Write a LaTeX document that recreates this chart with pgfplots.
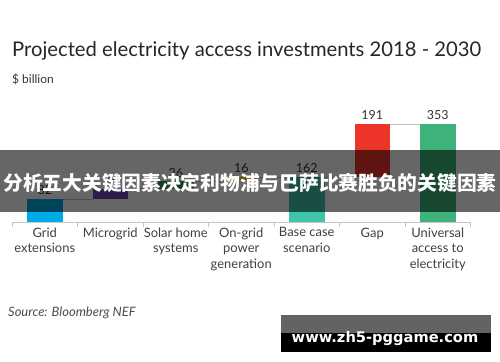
\documentclass[border=0pt]{standalone}
\usepackage{pgfplots}
\pgfplotsset{compat=1.18}
\usepackage{pgfplotstable}
\usepackage{fontspec}
\setmainfont{Lato}
\newfontfamily\cjk{Noto Sans CJK SC}
\newfontfamily\wm{DejaVu Sans}
\definecolor{gridblue}{RGB}{0,170,228}
\definecolor{micro}{RGB}{120,72,190}
\definecolor{solar}{RGB}{40,160,80}
\definecolor{ongrid}{RGB}{235,205,40}
\definecolor{basecase}{RGB}{64,196,170}
\definecolor{gapred}{RGB}{236,52,40}
\definecolor{univ}{RGB}{62,178,122}
\pgfplotstableread{
x base grid micro solar ongrid basecase gap univ
0 0   82 0  0  0  0   0   0
1 82  0  38 0  0  0   0   0
2 120 0  0  26 0  0   0   0
3 146 0  0  0  16 0   0   0
4 0   0  0  0  0  162 0   0
5 162 0  0  0  0  0   191 0
6 0   0  0  0  0  0   0   353
}\data
\begin{document}
\begin{tikzpicture}
\path[use as bounding box, fill=white] (0bp,0bp) rectangle (500bp,362bp);
\node[anchor=base west, font=\fontsize{20.3}{22}\selectfont, text=black!85, inner sep=0] at (12bp,305bp) {Projected electricity access investments 2018 - 2030};
\node[anchor=base west, font=\fontsize{12}{13}\selectfont, text=black!80, inner sep=0] at (12bp,278bp) {\$ billion};
\begin{axis}[at={(12bp,140bp)}, anchor=south west, scale only axis,
  width=458.5bp, height=111.04bp,
  xmin=-0.5, xmax=6.5, ymin=0, ymax=400,
  ybar stacked, bar width=35.5bp,
  axis x line=bottom, axis y line=none,
  x axis line style={-, gray!45},
  xtick={0,...,6},
  xticklabels={Grid\\extensions, Microgrid, Solar home\\systems, On-grid\\power\\generation, Base case\\scenario, Gap, Universal\\access to\\electricity},
  major tick length=0pt,
  extra x ticks={-0.5,0.5,1.5,2.5,3.5,4.5,5.5,6.5},
  extra x tick labels={},
  extra x tick style={major tick length=5bp, tick align=outside, tick style={gray!45}},
  xticklabel style={align=center, font=\fontsize{13}{15.5}\selectfont, text=black!75, inner sep=0pt, yshift=-5.5bp},
  clip=false]
\addplot[draw=none, fill=none] table[x=x,y=base]{\data};
\addplot[draw=none, fill=gridblue] table[x=x,y=grid]{\data};
\addplot[draw=none, fill=micro] table[x=x,y=micro]{\data};
\addplot[draw=none, fill=solar] table[x=x,y=solar]{\data};
\addplot[draw=none, fill=ongrid] table[x=x,y=ongrid]{\data};
\addplot[draw=none, fill=basecase] table[x=x,y=basecase]{\data};
\addplot[draw=none, fill=gapred] table[x=x,y=gap]{\data};
\addplot[draw=none, fill=univ] table[x=x,y=univ]{\data};
\end{axis}
\begin{axis}[at={(12bp,140bp)}, anchor=south west, scale only axis,
  width=458.5bp, height=111.04bp,
  xmin=-0.5, xmax=6.5, ymin=0, ymax=400,
  hide axis, clip=false]
\addplot[gray!50, line width=0.5bp] coordinates {(0.271,82) (0.729,82)};
\addplot[gray!50, line width=0.5bp] coordinates {(1.271,120) (1.729,120)};
\addplot[gray!50, line width=0.5bp] coordinates {(2.271,146) (2.729,146)};
\addplot[gray!50, line width=0.5bp] coordinates {(3.271,162) (3.729,162)};
\addplot[gray!50, line width=0.5bp] coordinates {(4.271,162) (4.729,162)};
\addplot[gray!50, line width=0.5bp] coordinates {(5.271,353) (5.729,353)};
\addplot[draw=none, mark=none, nodes near coords, point meta=explicit symbolic,
  nodes near coords style={anchor=south, inner sep=0pt, yshift=4bp, font=\fontsize{12.5}{13}\selectfont, text=black!80}]
  coordinates {(0,82) [82] (1,120) [38] (2,146) [26] (3,162) [16] (4,162) [162] (5,353) [191] (6,353) [353]};
\end{axis}
\fill[black, opacity=0.6] (0bp,150bp) rectangle (500bp,212bp);
\node[font=\cjk\bfseries\fontsize{19.8}{21}\selectfont, text=white, inner sep=0] at (250bp,179bp) {分析五大关键因素决定利物浦与巴萨比赛胜负的关键因素};
\node[anchor=west, font=\itshape\fontsize{13}{14}\selectfont, text=black!70, inner sep=0] at (8bp,49bp) {Source: Bloomberg NEF};
\fill[black!61] (281bp,29bp) rectangle (491bp,47bp);
\fill[black] (281bp,9.5bp) rectangle (491bp,29bp);
\node[anchor=base, font=\wm\bfseries\fontsize{14.7}{16}\selectfont, text=white, inner sep=0] at (385bp,20bp) {www.zh5-pggame.com};
\end{tikzpicture}
\end{document}
